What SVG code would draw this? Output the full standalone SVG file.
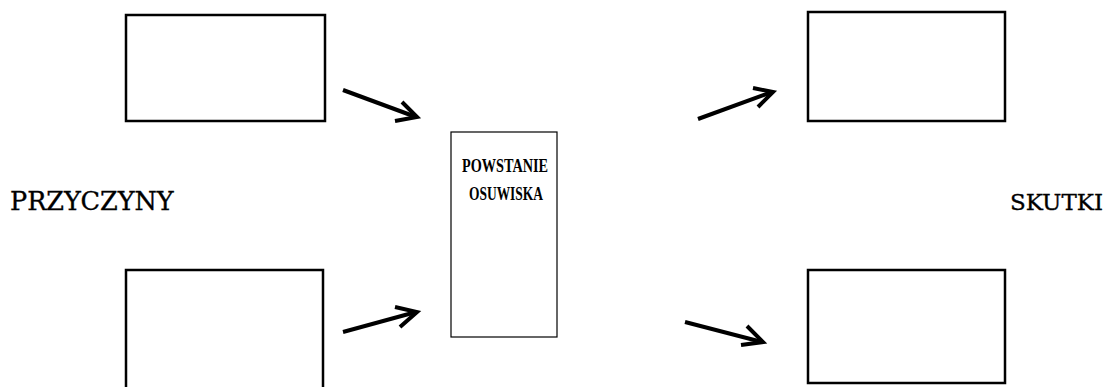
<svg xmlns="http://www.w3.org/2000/svg" width="1110" height="387" viewBox="0 0 1110 387">
<style>
.box{fill:#fff;stroke:#000;stroke-width:2.5}
.cbox{fill:#fff;stroke:#000;stroke-width:1.2}
.arr{fill:none;stroke:#000;stroke-width:4;stroke-linecap:butt;stroke-linejoin:miter}
.lab{font-family:"DejaVu Serif","Liberation Serif",serif;font-size:25.5px;fill:#000;stroke:#000;stroke-width:0.35}
.ctr{font-family:"Liberation Serif",serif;font-weight:bold;font-size:18px;fill:#000;text-anchor:middle}
</style>
<rect width="1110" height="387" fill="#fff"/>
<g id="cause1"><rect class="box" x="126" y="15" width="199" height="106"/></g>
<g id="cause2"><rect class="box" x="126" y="270" width="197" height="130"/></g>
<g id="effect1"><rect class="box" x="808" y="12" width="197" height="109"/></g>
<g id="effect2"><rect class="box" x="808" y="270" width="197" height="113"/></g>
<g id="center"><rect class="cbox" x="451" y="132" width="106" height="205"/>
<text class="ctr" x="505" y="172" textLength="86" lengthAdjust="spacingAndGlyphs">POWSTANIE</text>
<text class="ctr" x="506" y="200" textLength="74" lengthAdjust="spacingAndGlyphs">OSUWISKA</text></g>
<g id="label-causes"><text class="lab" x="10" y="210">PRZYCZYNY</text></g>
<g id="label-effects"><text class="lab" x="1103" y="210" text-anchor="end" style="font-size:23px">SKUTKI</text></g>
<g id="connectors">
<line class="arr" x1="343" y1="90" x2="416" y2="117"/>
<polyline class="arr" points="402,102 417,117 395,121"/>
<line class="arr" x1="698" y1="119" x2="772" y2="92"/>
<polyline class="arr" points="753,88 773,92 758,107"/>
<line class="arr" x1="343" y1="332" x2="416" y2="312"/>
<polyline class="arr" points="395,307 417,312 400,327"/>
<line class="arr" x1="685" y1="322" x2="762" y2="342"/>
<polyline class="arr" points="747,326 763,342 741,345"/>
</g>
</svg>
